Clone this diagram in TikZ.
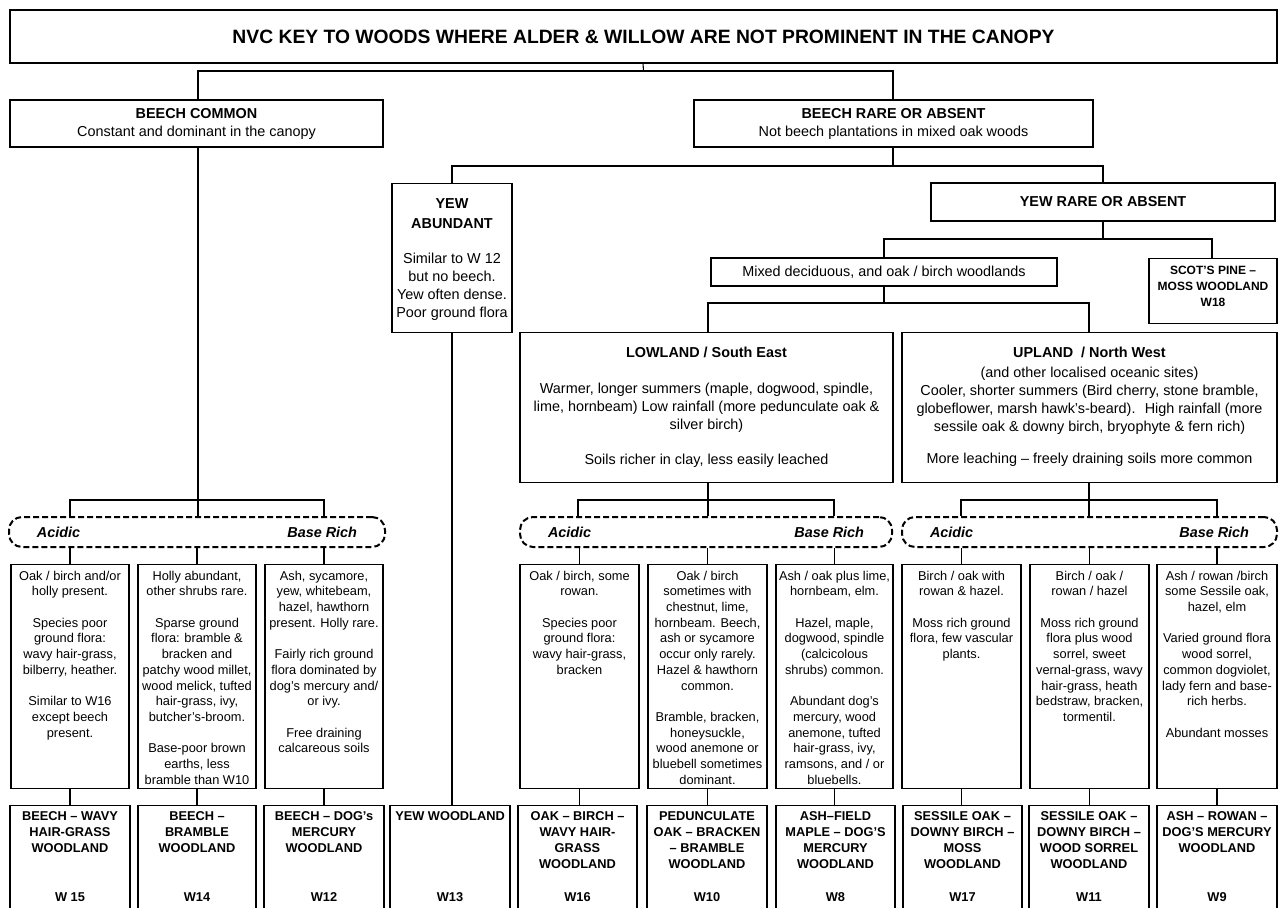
\documentclass[tikz,border=0pt]{standalone}
\usepackage{fontspec}
\setmainfont{Liberation Sans}
\newcommand{\dtxt}[2]{\parbox[t][224pt][t]{#1}{\centering\rule{0pt}{15.6pt}#2}}
\newcommand{\rtxt}[3]{\parbox[t][110pt][s]{#1}{\centering\rule{0pt}{14.6pt}#2\par\vfill #3\par\vspace*{14.4pt}}}
\newcommand{\sidetxt}[1]{\hbox to #1{\hskip 28pt Acidic\hfill Base Rich\hskip 28pt}}
\begin{document}
\begin{tikzpicture}[x=1pt,y=-1pt,
  box/.style={draw, line width=1.1pt, inner sep=0pt, align=center},
  hfont/.style={font=\fontsize{14.4}{18}\selectfont},
  sfont/.style={font=\fontsize{12.8}{15.7}\selectfont},
  rfont/.style={font=\fontsize{12.8}{16}\selectfont\bfseries},
  dbox/.style={draw, line width=2pt, dash pattern=on 6pt off 3pt, rounded corners=13pt, inner sep=0pt, minimum height=30pt, font=\fontsize{14.4}{18}\selectfont\bfseries\itshape},
  conn/.style={line width=1.1pt}]
\useasboundingbox (0,0) rectangle (1284,907);
% top level
\node[box, minimum width=1267pt, minimum height=53pt, font=\fontsize{19.3}{22}\selectfont\bfseries] (title) at (643.5,36.5) {NVC KEY TO WOODS WHERE ALDER \& WILLOW ARE NOT PROMINENT IN THE CANOPY};
\node[box, hfont, minimum width=373pt, minimum height=47pt] (bc) at (196.5,123.5) {\textbf{BEECH COMMON}\\Constant and dominant in the canopy};
\node[box, hfont, minimum width=399pt, minimum height=47pt] (br) at (893.5,123.5) {\textbf{BEECH RARE OR ABSENT}\\Not beech plantations in mixed oak woods};
\node[box, hfont, anchor=north] (ya) at (452,183) {\parbox[t][149pt][t]{120pt}{\centering\rule{0pt}{25pt}\textbf{YEW}\\[2pt]\textbf{ABUNDANT}\\[17pt]Similar to W 12\\but no beech.\\Yew often dense.\\Poor ground flora}};
\node[box, hfont, minimum width=344pt, minimum height=38pt, font=\fontsize{14.4}{18}\selectfont\bfseries] (yr) at (1103,202) {YEW RARE OR ABSENT};
\node[box, hfont, minimum width=346pt, minimum height=28pt] (mx) at (884,272) {Mixed deciduous, and oak / birch woodlands};
\node[box, anchor=north, font=\fontsize{12}{16}\selectfont\bfseries] (sp) at (1213,258) {\parbox[t][65pt][t]{128pt}{\centering\rule{0pt}{16.3pt}SCOT’S PINE –\\MOSS WOODLAND\\W18}};
\node[box, hfont, anchor=north] (low) at (706.5,332) {\parbox[t][150pt][t]{373pt}{\centering\rule{0pt}{25.2pt}\textbf{LOWLAND / South East}\\[18pt]Warmer, longer summers (maple, dogwood, spindle,\\lime, hornbeam) Low rainfall (more pedunculate oak \&\\silver birch)\\[17pt]Soils richer in clay, less easily leached}};
\node[box, hfont, anchor=north] (up) at (1089.5,332) {\parbox[t][150pt][t]{375pt}{\centering\rule{0pt}{25.2pt}\textbf{UPLAND~ / North West}\\[2pt](and other localised oceanic sites)\\Cooler, shorter summers (Bird cherry, stone bramble,\\globeflower, marsh hawk’s-beard).~ High rainfall (more\\sessile oak \& downy birch, bryophyte \& fern rich)\\[14pt]More leaching – freely draining soils more common}};
% dashed soil boxes
\node[dbox] (db1) at (197,532) {\sidetxt{376pt}};
\node[dbox] (db2) at (706,532) {\sidetxt{372pt}};
\node[dbox] (db3) at (1089.5,532) {\sidetxt{375pt}};
% description boxes
\node[box, sfont, anchor=north] (d1) at (70,564) {\dtxt{118pt}{Oak / birch and/or\\holly present.\\[15.7pt]Species poor\\ground flora:\\wavy hair-grass,\\bilberry, heather.\\[15.7pt]Similar to W16\\except beech\\present.}};
\node[box, sfont, anchor=north] (d2) at (197,564) {\dtxt{118pt}{Holly abundant,\\other shrubs rare.\\[15.7pt]Sparse ground\\flora: bramble \&\\bracken and\\patchy wood millet,\\wood melick, tufted\\hair-grass, ivy,\\butcher’s-broom.\\[15.7pt]Base-poor brown\\earths, less\\bramble than W10}};
\node[box, sfont, anchor=north] (d3) at (324,564) {\dtxt{118pt}{Ash, sycamore,\\yew, whitebeam,\\hazel, hawthorn\\present. Holly rare.\\[15.7pt]Fairly rich ground\\flora dominated by\\dog’s mercury and/\\or ivy.\\[15.7pt]Free draining\\calcareous soils}};
\node[box, sfont, anchor=north] (d4) at (579.5,564) {\dtxt{119pt}{Oak / birch, some\\rowan.\\[15.7pt]Species poor\\ground flora:\\wavy hair-grass,\\bracken}};
\node[box, sfont, anchor=north] (d5) at (707.5,564) {\dtxt{119pt}{Oak / birch\\sometimes with\\chestnut, lime,\\hornbeam. Beech,\\ash or sycamore\\occur only rarely.\\Hazel \& hawthorn\\common.\\[15.7pt]Bramble, bracken,\\honeysuckle,\\wood anemone or\\bluebell sometimes\\dominant.}};
\node[box, sfont, anchor=north] (d6) at (834.5,564) {\dtxt{117pt}{Ash / oak plus lime,\\hornbeam, elm.\\[15.7pt]Hazel, maple,\\dogwood, spindle\\(calcicolous\\shrubs) common.\\[15.7pt]Abundant dog’s\\mercury, wood\\anemone, tufted\\hair-grass, ivy,\\ramsons, and / or\\bluebells.}};
\node[box, sfont, anchor=north] (d7) at (961.5,564) {\dtxt{119pt}{Birch / oak with\\rowan \& hazel.\\[15.7pt]Moss rich ground\\flora, few vascular\\plants.}};
\node[box, sfont, anchor=north] (d8) at (1089.5,564) {\dtxt{119pt}{Birch / oak /\\rowan / hazel\\[15.7pt]Moss rich ground\\flora plus wood\\sorrel, sweet\\vernal-grass, wavy\\hair-grass, heath\\bedstraw, bracken,\\tormentil.}};
\node[box, sfont, anchor=north] (d9) at (1217,564) {\dtxt{120pt}{Ash / rowan /birch\\some Sessile oak,\\hazel, elm\\[15.7pt]Varied ground flora\\wood sorrel,\\common dogviolet,\\lady fern and base-\\rich herbs.\\[15.7pt]Abundant mosses}};
% result boxes
\node[box, rfont, anchor=north] (r1) at (70,805) {\rtxt{120pt}{BEECH – WAVY\\HAIR-GRASS\\WOODLAND}{W 15}};
\node[box, rfont, anchor=north] (r2) at (197,805) {\rtxt{118pt}{BEECH –\\BRAMBLE\\WOODLAND}{W14}};
\node[box, rfont, anchor=north] (r3) at (324,805) {\rtxt{120pt}{BEECH – DOG’s\\MERCURY\\WOODLAND}{W12}};
\node[box, rfont, anchor=north] (r4) at (450,805) {\rtxt{120pt}{YEW WOODLAND}{W13}};
\node[box, rfont, anchor=north] (r5) at (577.5,805) {\rtxt{119pt}{OAK – BIRCH –\\WAVY HAIR-\\GRASS\\WOODLAND}{W16}};
\node[box, rfont, anchor=north] (r6) at (707,805) {\rtxt{120pt}{PEDUNCULATE\\OAK – BRACKEN\\– BRAMBLE\\WOODLAND}{W10}};
\node[box, rfont, anchor=north] (r7) at (835.5,805) {\rtxt{119pt}{ASH–FIELD\\MAPLE – DOG’S\\MERCURY\\WOODLAND}{W8}};
\node[box, rfont, anchor=north] (r8) at (962.5,805) {\rtxt{119pt}{SESSILE OAK –\\DOWNY BIRCH –\\MOSS\\WOODLAND}{W17}};
\node[box, rfont, anchor=north] (r9) at (1089,805) {\rtxt{120pt}{SESSILE OAK –\\DOWNY BIRCH –\\WOOD SORREL\\WOODLAND}{W11}};
\node[box, rfont, anchor=north] (r10) at (1217,805) {\rtxt{120pt}{ASH – ROWAN –\\DOG’S MERCURY\\WOODLAND}{W9}};
% junction coordinates
\coordinate (k1) at (198,71); \coordinate (k2) at (893,71);
\coordinate (k3) at (893,166); \coordinate (k4) at (452,166); \coordinate (k5) at (1103,166);
\coordinate (k6) at (1103,239); \coordinate (k7) at (884,239); \coordinate (k8) at (1212,239);
\coordinate (k9) at (884,303); \coordinate (k10) at (708,303); \coordinate (k11) at (1089,303);
\coordinate (m1) at (70,500); \coordinate (m2) at (198,500); \coordinate (m3) at (324,500);
\coordinate (m4) at (578,500); \coordinate (m5) at (708,500); \coordinate (m6) at (834,500);
\coordinate (m7) at (961,500); \coordinate (m8) at (1089,500); \coordinate (m9) at (1217,500);
% connectors
\draw[conn] (title.south -| 643,0) -- (title.south |- k1);
\draw[conn] (bc.north -| k1) -- (k1) -- (k2) -- (br.north -| k2);
\draw[conn] (br.south -| k3) -- (k3);
\draw[conn] (ya.north) -- (k4) -- (k5) -- (yr.north -| k5);
\draw[conn] (yr.south -| k6) -- (k6);
\draw[conn] (mx.north -| k7) -- (k7) -- (k8) -- (sp.north -| k8);
\draw[conn] (mx.south -| k9) -- (k9);
\draw[conn] (low.north -| k10) -- (k10) -- (k11) -- (up.north -| k11);
\draw[conn] (bc.south -| k1) -- (m2);
\draw[conn] (db1.north -| m1) -- (m1) -- (m3) -- (db1.north -| m3);
\draw[conn] (m2) -- (db1.north -| m2);
\draw[conn] (low.south -| m5) -- (m5);
\draw[conn] (db2.north -| m4) -- (m4) -- (m6) -- (db2.north -| m6);
\draw[conn] (m5) -- (db2.north -| m5);
\draw[conn] (up.south -| m8) -- (m8);
\draw[conn] (db3.north -| m7) -- (m7) -- (m9) -- (db3.north -| m9);
\draw[conn] (m8) -- (db3.north -| m8);
\foreach \d in {d1,d2,d3}{\draw[conn] (db1.south -| \d.north) -- (\d.north);}
\foreach \d in {d4,d5,d6}{\draw[conn] (db2.south -| \d.north) -- (\d.north);}
\foreach \d in {d7,d8,d9}{\draw[conn] (db3.south -| \d.north) -- (\d.north);}
\draw[conn] (ya.south) -- (ya.south |- r4.north);
\foreach \d/\r in {d1/r1,d2/r2,d3/r3,d4/r5,d5/r6,d6/r7,d7/r8,d8/r9,d9/r10}{\draw[conn] (\d.south) -- (\d.south |- \r.north);}
\end{tikzpicture}
\end{document}
